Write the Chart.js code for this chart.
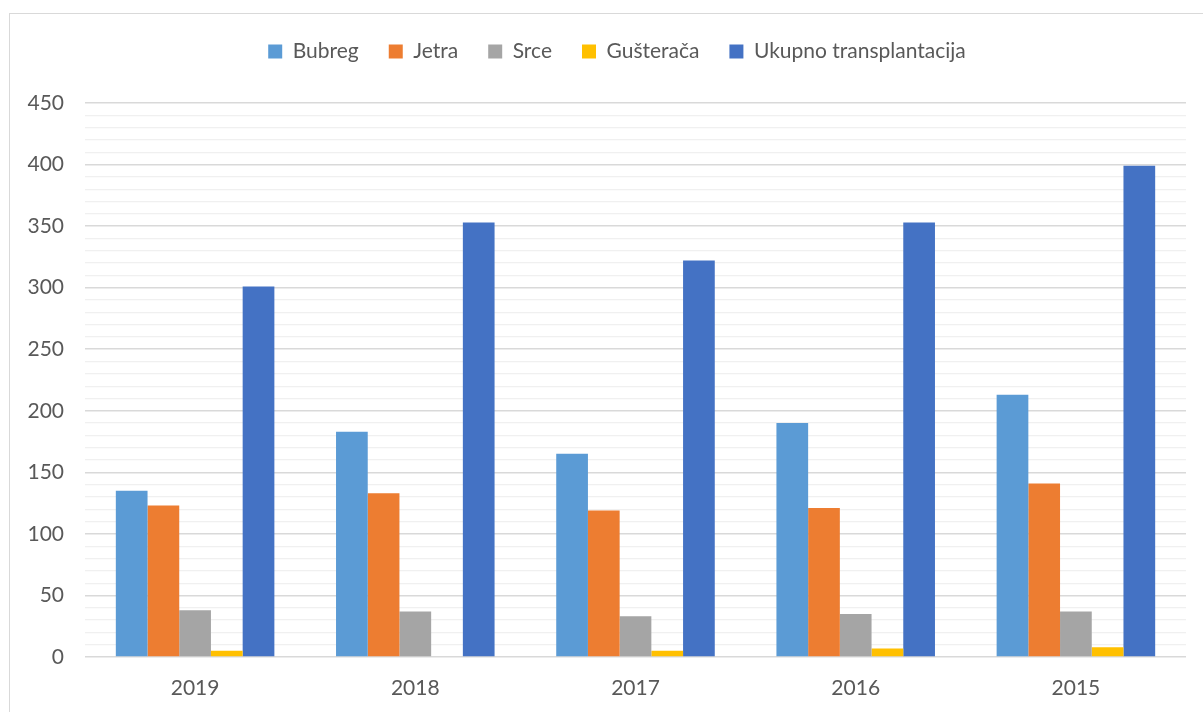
<!DOCTYPE html>
<html>
<head>
<meta charset="utf-8">
<script src="https://cdn.jsdelivr.net/npm/chart.js@4.4.1/dist/chart.umd.min.js"></script>
<style>
  html, body { margin: 0; padding: 0; background: #fff; overflow: hidden; }
  #frame { position: absolute; left: 9px; top: 13px; width: 1300px; height: 800px; border: 1px solid #d9d9d9; }
  #wrap { position: absolute; left: 0; top: 0; width: 1203px; height: 712px; }
</style>
</head>
<body>
<div id="frame"></div>
<div id="wrap"><canvas id="chart"></canvas></div>
<script>
const years = ['2019', '2018', '2017', '2016', '2015'];
const bubreg = [135, 183, 165, 190, 213];
const jetra = [123, 133, 119, 121, 141];
const srce = [38, 37, 33, 35, 37];
const gusteraca = [5, 0, 5, 7, 8];
const ukupno = [301, 353, 322, 353, 399];
const yTickLabels = [0, 50, 100, 150, 200, 250, 300, 350, 400, 450];

const textColor = '#595959';
const fontFamily = 'Lato, "Open Sans", sans-serif';

// legend height / position tweaks so the plot area lines up
const legendTweak = {
  id: 'legendTweak',
  afterInit(chart) {
    const lg = chart.legend;
    const fit = lg.fit;
    lg.fit = function () {
      fit.call(this);
      this.height = 92;
    };
  },
  afterLayout(chart) {
    chart.legend.left += 24;
    chart.legend.right += 24;
  }
};

new Chart(document.getElementById('chart'), {
  type: 'bar',
  data: {
    labels: years,
    datasets: [
      { label: 'Bubreg', data: bubreg, backgroundColor: '#5B9BD5' },
      { label: 'Jetra', data: jetra, backgroundColor: '#ED7D31' },
      { label: 'Srce', data: srce, backgroundColor: '#A5A5A5' },
      { label: 'Gušterača', data: gusteraca, backgroundColor: '#FFC000' },
      { label: 'Ukupno transplantacija', data: ukupno, backgroundColor: '#4472C4' }
    ]
  },
  options: {
    responsive: true,
    maintainAspectRatio: false,
    animation: false,
    categoryPercentage: 0.72,
    barPercentage: 1.0,
    layout: { padding: { top: 11, right: 17, left: 0, bottom: 0 } },
    plugins: {
      legend: {
        position: 'top',
        labels: {
          boxWidth: 14,
          boxHeight: 14,
          padding: 30,
          color: textColor,
          font: { family: fontFamily, size: 21 }
        }
      },
      tooltip: { enabled: false }
    },
    scales: {
      x: {
        grid: { display: false, drawTicks: false },
        border: { display: false },
        ticks: {
          color: textColor,
          padding: 19,
          font: { family: fontFamily, size: 21 }
        },
        afterFit: (scale) => { scale.height = 55; }
      },
      y: {
        min: 0,
        max: 450,
        border: { display: false },
        grid: {
          drawTicks: false,
          color: (ctx) => (ctx.tick && ctx.tick.value % 50 === 0 ? '#d9d9d9' : '#f0f0f0'),
          lineWidth: (ctx) => (ctx.tick && ctx.tick.value % 50 === 0 ? 1.5 : 1.2)
        },
        ticks: {
          stepSize: 10,
          autoSkip: false,
          color: textColor,
          padding: 21,
          font: { family: fontFamily, size: 21 },
          callback: (v) => (yTickLabels.includes(v) ? v : '')
        },
        afterFit: (scale) => { scale.width = 85; }
      }
    }
  },
  plugins: [legendTweak]
});
</script>
</body>
</html>
